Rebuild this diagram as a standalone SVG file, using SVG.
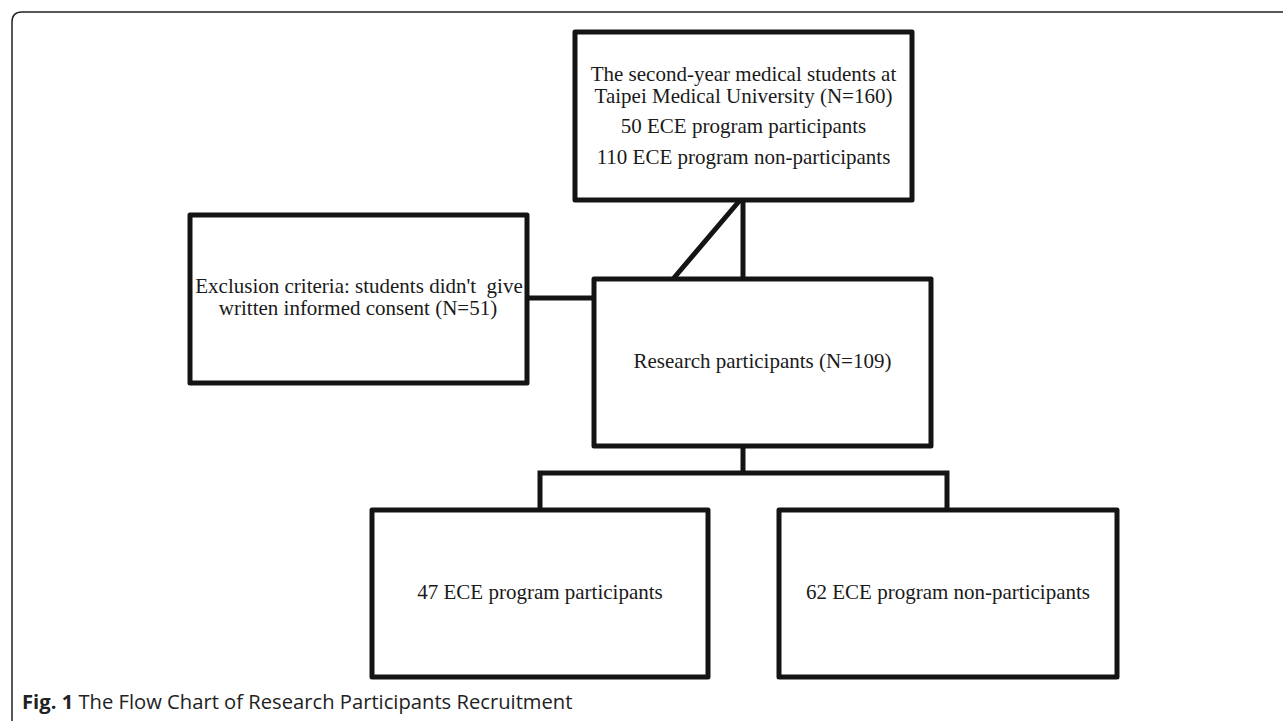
<svg xmlns="http://www.w3.org/2000/svg" width="1283" height="721" viewBox="0 0 1283 721">
<style>
.box{fill:#fff;stroke:#141414;stroke-width:5;stroke-linejoin:round}
.con{fill:none;stroke:#141414;stroke-width:5}
.t{font-family:"Liberation Serif","Times New Roman",serif;font-size:21px;fill:#1a1a1a;text-anchor:middle;white-space:pre}
.cap{font-family:"Open Sans","Noto Sans",sans-serif;font-size:20.2px;fill:#222}
</style>
<rect width="1283" height="721" fill="#fff"/>
<path d="M12 721 V22 Q12 12 22 12 H1283" fill="none" stroke="#222" stroke-width="1.5"/>
<g id="connectors">
<line class="con" x1="741" y1="199" x2="673" y2="279"/>
<line class="con" x1="743" y1="199" x2="743" y2="279"/>
<line class="con" x1="527" y1="298" x2="594" y2="298"/>
<line class="con" x1="743" y1="446" x2="743" y2="473"/>
<polyline class="con" points="540,510 540,473 947,473 947,510"/>
</g>
<g id="node-top">
<rect class="box" x="575" y="32" width="337" height="168"/>
<text class="t" x="743.5" y="81">The second-year medical students at</text>
<text class="t" x="743.5" y="103">Taipei Medical University (N=160)</text>
<text class="t" x="743.5" y="133">50 ECE program participants</text>
<text class="t" x="743.5" y="164">110 ECE program non-participants</text>
</g>
<g id="node-exclusion">
<rect class="box" x="190" y="215" width="337" height="168"/>
<text class="t" x="359" y="293">Exclusion criteria: students didn't  give</text>
<text class="t" x="358" y="315">written informed consent (N=51)</text>
</g>
<g id="node-research">
<rect class="box" x="594" y="279" width="337" height="167"/>
<text class="t" x="762.5" y="368">Research participants (N=109)</text>
</g>
<g id="node-participants">
<rect class="box" x="372" y="510" width="336" height="167"/>
<text class="t" x="540" y="599">47 ECE program participants</text>
</g>
<g id="node-nonparticipants">
<rect class="box" x="779" y="510" width="338" height="167"/>
<text class="t" x="948" y="599">62 ECE program non-participants</text>
</g>
<text class="cap" x="22" y="709"><tspan font-weight="bold">Fig. 1</tspan> The Flow Chart of Research Participants Recruitment</text>
</svg>
